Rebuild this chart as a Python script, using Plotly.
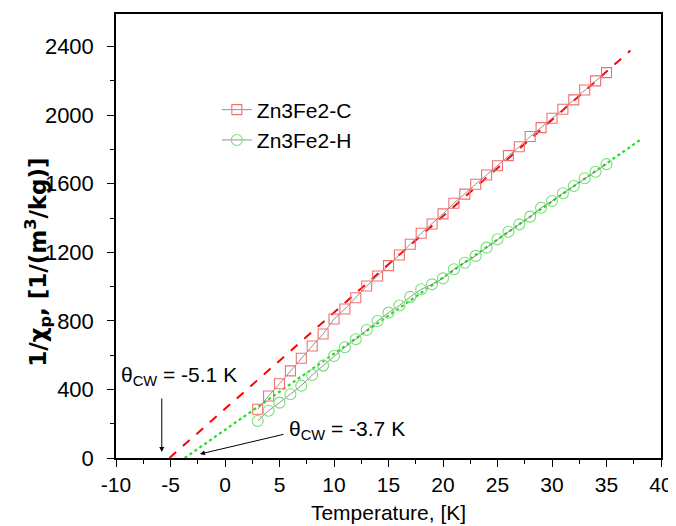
import plotly.graph_objects as go

# Data
temperature = list(range(3, 36))
inv_chi_C = [284, 362, 433, 508, 582, 653, 723, 811, 869, 935, 1003, 1062, 1122, 1184,
             1247, 1311, 1365, 1424, 1486, 1539, 1597, 1651, 1705, 1764, 1816, 1875,
             1927, 1982, 2034, 2089, 2147, 2200, 2248]
inv_chi_H = [216, 276, 323, 372, 422, 484, 539, 595, 646, 693, 747, 799, 848, 890,
             940, 984, 1013, 1048, 1101, 1139, 1179, 1227, 1276, 1320, 1363, 1408,
             1460, 1499, 1544, 1587, 1632, 1670, 1714]

# Curie-Weiss fit lines (theta, slope, end temperature)
fit_C_T = [-5.1, 37.2]
fit_C_slope = 56.2
fit_H_T = [-3.7, 38.1]
fit_H_slope = 44.4

x_tickvals = list(range(-10, 41, 5))
x_ticktext = [str(v) for v in x_tickvals]
y_tickvals = list(range(0, 2401, 400))
y_ticktext = [str(v) for v in y_tickvals]

fig = go.Figure()

fig.add_trace(go.Scatter(
    x=fit_C_T, y=[fit_C_slope * (t - fit_C_T[0]) for t in fit_C_T],
    mode="lines", line=dict(color="#ff0000", width=2, dash="dash"),
    showlegend=False, hoverinfo="skip"))
fig.add_trace(go.Scatter(
    x=fit_H_T, y=[fit_H_slope * (t - fit_H_T[0]) for t in fit_H_T],
    mode="lines", line=dict(color="#22dd22", width=2.2, dash="dot"),
    showlegend=False, hoverinfo="skip"))

fig.add_trace(go.Scatter(
    x=temperature, y=inv_chi_C, name="Zn3Fe2-C", mode="lines+markers",
    line=dict(color="#777777", width=0.8),
    marker=dict(symbol="square-open", size=10, color="#f07070", line=dict(width=1.1))))
fig.add_trace(go.Scatter(
    x=temperature, y=inv_chi_H, name="Zn3Fe2-H", mode="lines+markers",
    line=dict(color="#777777", width=0.8),
    marker=dict(symbol="circle-open", size=11, color="#77e077", line=dict(width=1.1))))

font_main = "Liberation Sans, Arial, sans-serif"
theta = "θ"

fig.add_annotation(x=-5.8, y=35, ax=-5.8, ay=356, xref="x", yref="y", axref="x", ayref="y",
                   text="", showarrow=True, arrowhead=2, arrowsize=1, arrowwidth=1, arrowcolor="black")
fig.add_annotation(x=-4.2, y=478, xref="x", yref="y", showarrow=False,
                   text=theta + "<sub>CW</sub> = -5.1 K", font=dict(size=21, color="black", family=font_main))
fig.add_annotation(x=-2.3, y=23, ax=5.5, ay=140, xref="x", yref="y", axref="x", ayref="y",
                   text="", showarrow=True, arrowhead=2, arrowsize=1, arrowwidth=1, arrowcolor="black")
fig.add_annotation(x=11.2, y=163, xref="x", yref="y", showarrow=False,
                   text=theta + "<sub>CW</sub> = -3.7 K", font=dict(size=21, color="black", family=font_main))

# y-axis title drawn as a rotated annotation so it can sit slightly below centre
fig.add_annotation(x=-0.143, y=0.44, xref="paper", yref="paper", showarrow=False,
                   textangle=-90, xanchor="center", yanchor="middle",
                   text="<b>1/χ<sub>p</sub>, [1/(m<sup>3</sup>/kg)]</b>",
                   font=dict(size=23, color="black", family="DejaVu Sans, sans-serif"))

# The page body adds an 8px offset, so the figure is sized to compensate
fig.update_layout(
    width=668, height=518,
    margin=dict(l=108, r=15, t=6, b=68, autoexpand=False),
    paper_bgcolor="white", plot_bgcolor="white",
    font=dict(family=font_main, color="black", size=20),
    legend=dict(x=0.185, y=0.83, xanchor="left", yanchor="top",
                bgcolor="rgba(0,0,0,0)", font=dict(size=21), tracegroupgap=0),
    showlegend=True,
)
fig.update_xaxes(
    range=[-10, 40], tickvals=x_tickvals, ticktext=x_ticktext, automargin=False,
    ticks="outside", ticklen=7, tickwidth=1.2, tickcolor="black",
    minor=dict(dtick=2.5, ticks="outside", ticklen=4, tickcolor="black"),
    showline=True, linecolor="black", linewidth=1.5, mirror=True,
    showgrid=False, zeroline=False,
    title=dict(text="Temperature, [K]", font=dict(size=21), standoff=10),
    tickfont=dict(size=21),
)
fig.update_yaxes(
    range=[0, 2590], tickvals=y_tickvals, ticktext=y_ticktext, automargin=False,
    ticks="outside", ticklen=7, tickwidth=1.2, tickcolor="black",
    minor=dict(dtick=200, ticks="outside", ticklen=4, tickcolor="black"),
    showline=True, linecolor="black", linewidth=1.5, mirror=True,
    showgrid=False, zeroline=False, ticklabelstandoff=9,
    tickfont=dict(size=22),
)

fig.write_html("out.html")
